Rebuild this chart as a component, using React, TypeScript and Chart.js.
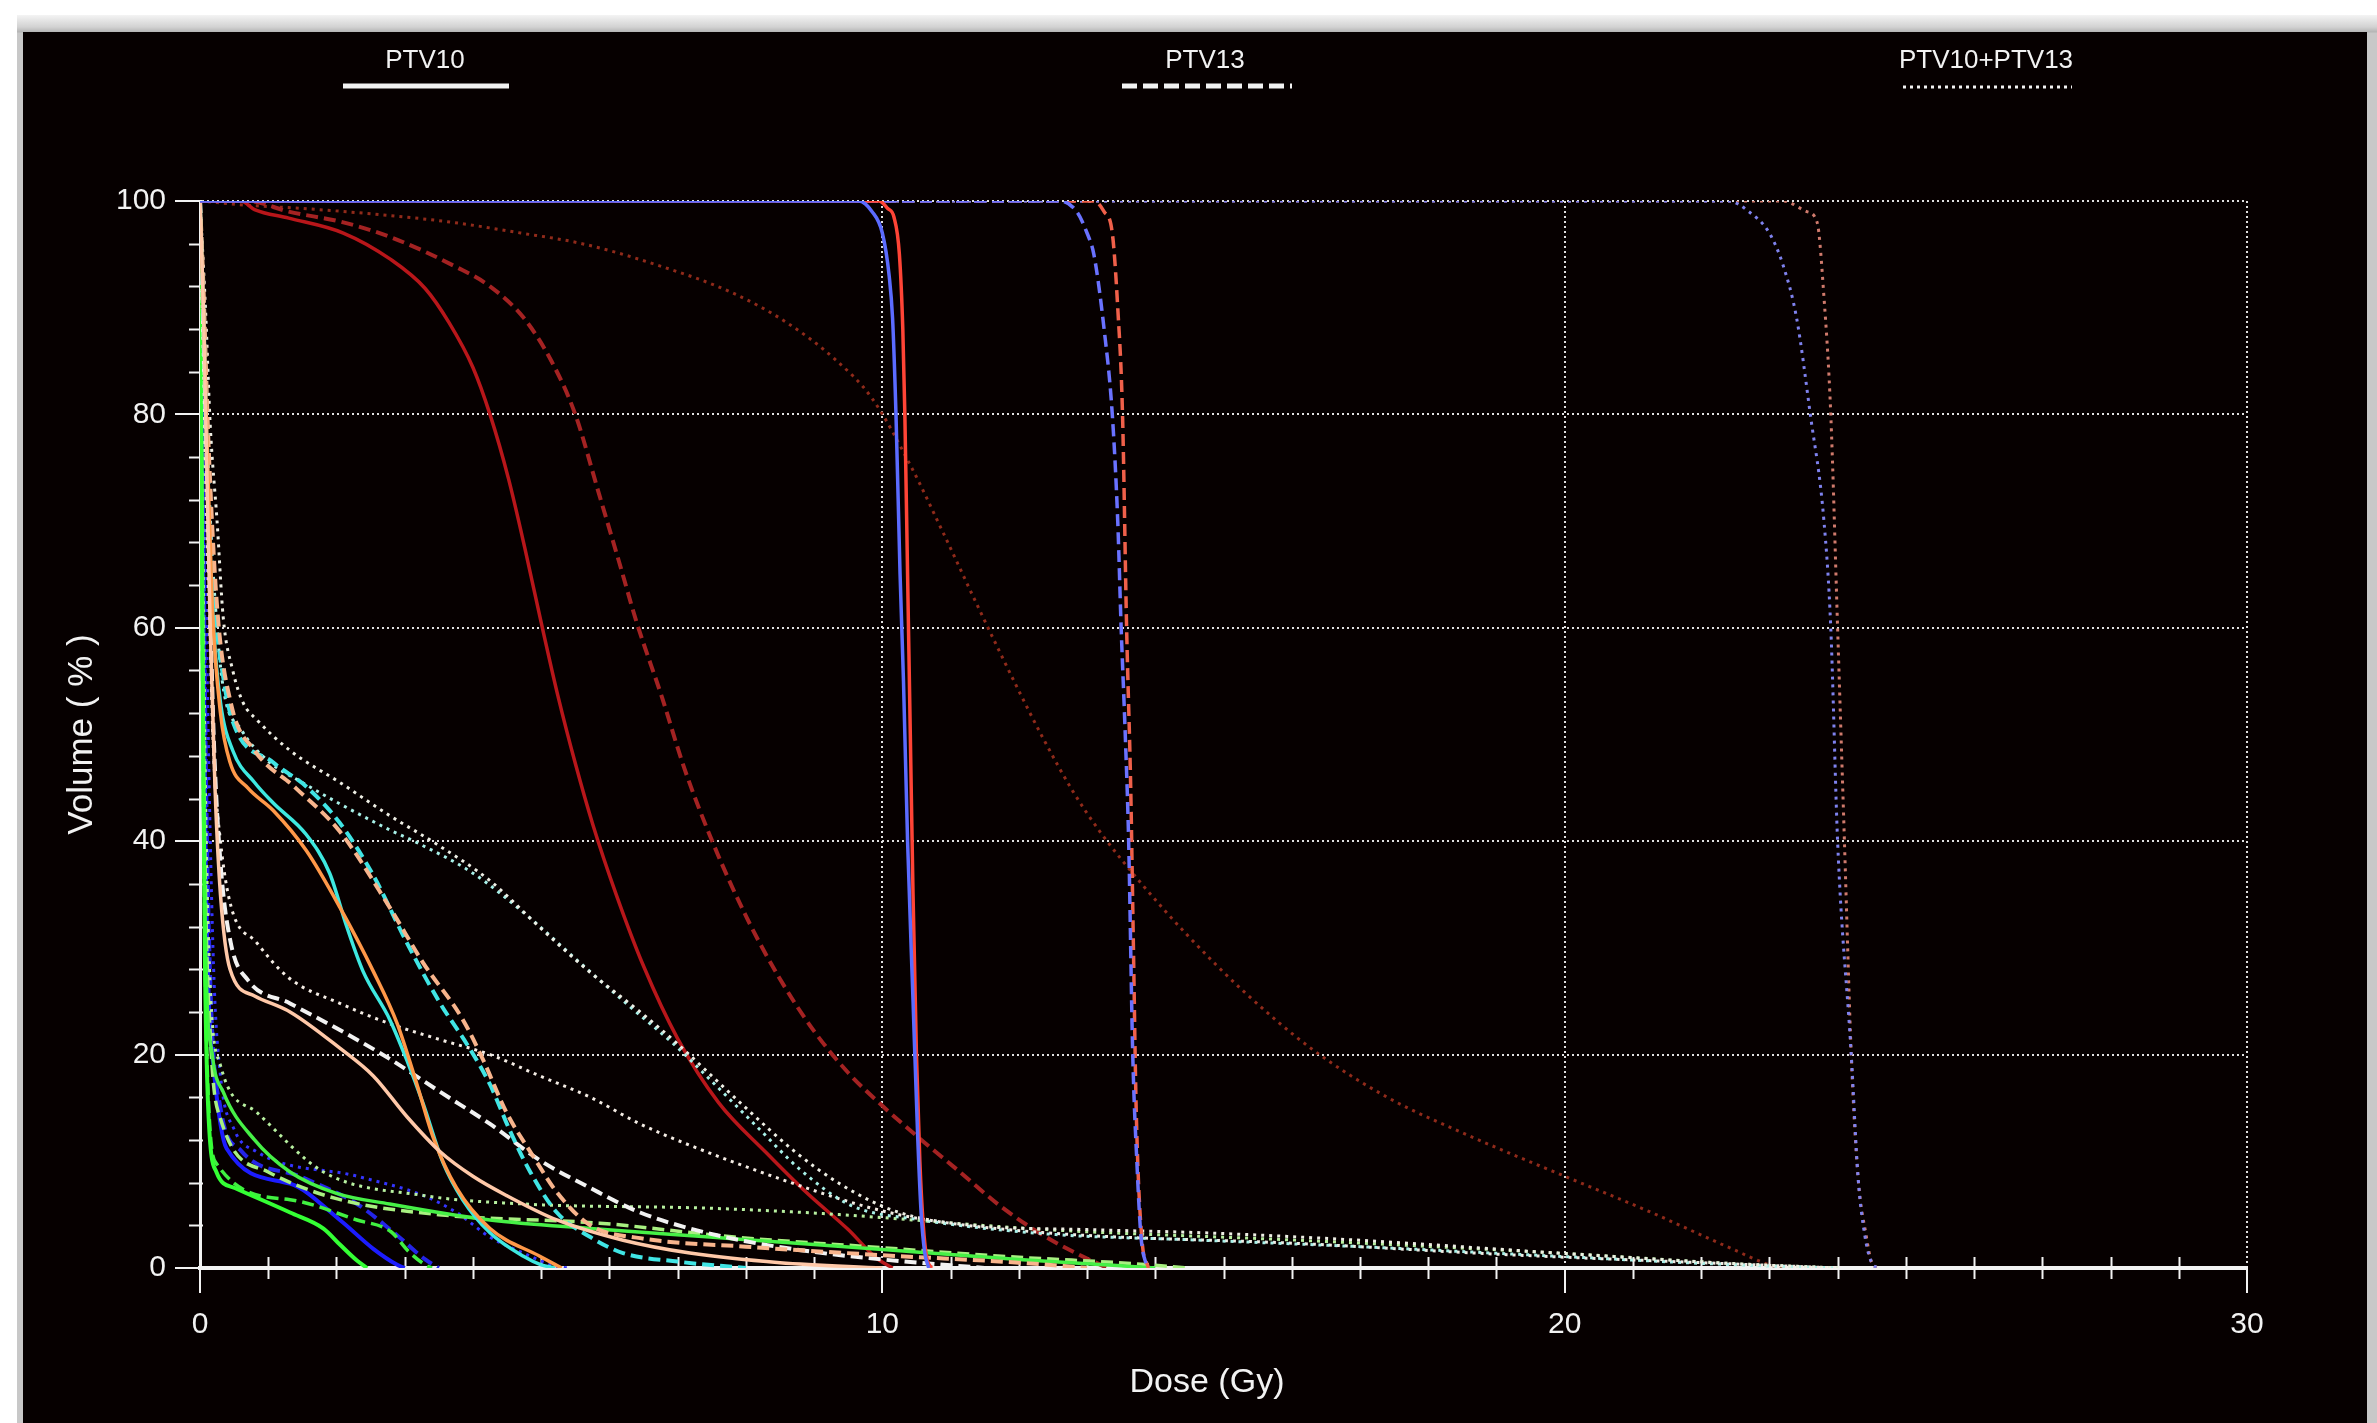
import React, { useEffect, useRef } from 'react';
import { Chart, registerables } from 'chart.js';

Chart.register(...registerables);

// ---------- axis / legend values ----------
const doseMin = 0;
const doseMax = 30;
const doseMajorStep = 10;
const doseMinorStep = 1;
const volMin = 0;
const volMax = 100;
const volMajorStep = 20;
const volMinorStep = 4;
const xTitle = 'Dose (Gy)';
const yTitle = 'Volume ( % )';
const planLabels = ['PTV10', 'PTV13', 'PTV10+PTV13'];

// ---------- DVH series: [dose Gy, volume %] ----------
const blueSolid: [number, number][] = [[0, 100], [9.65, 100], [9.85, 99], [10.0, 97], [10.1, 93], [10.15, 89], [10.2, 80], [10.26, 65], [10.31, 55], [10.37, 40], [10.45, 25], [10.52, 12], [10.57, 5], [10.62, 1.5], [10.68, 0]];
const redSolid: [number, number][] = [[0, 100], [9.95, 100], [10.08, 99.3], [10.17, 98.5], [10.25, 95], [10.3, 88], [10.33, 80], [10.37, 65], [10.41, 50], [10.45, 35], [10.5, 20], [10.55, 10], [10.6, 4], [10.65, 1], [10.72, 0]];
const blueDashed: [number, number][] = [[0, 100], [12.6, 100], [12.85, 99], [13.0, 97], [13.1, 95], [13.25, 88], [13.37, 80], [13.45, 70], [13.5, 60], [13.56, 50], [13.61, 40], [13.67, 20], [13.73, 10], [13.79, 3], [13.88, 0]];
const redDashed: [number, number][] = [[0, 100], [13.1, 100], [13.25, 99], [13.37, 97], [13.45, 90], [13.52, 80], [13.58, 60], [13.64, 45], [13.68, 30], [13.72, 15], [13.8, 3], [13.9, 0]];
const blueDotted: [number, number][] = [[0, 100], [22.4, 100], [22.7, 99], [23.0, 97], [23.2, 94], [23.4, 89], [23.6, 80], [23.8, 70], [23.9, 60], [24.0, 40], [24.2, 20], [24.3, 8.5], [24.4, 3], [24.5, 0.5], [24.6, 0]];
const redDotted: [number, number][] = [[0, 100], [23.2, 100], [23.55, 99], [23.7, 98], [23.8, 91], [23.9, 80], [24.0, 60], [24.1, 40], [24.2, 20], [24.3, 8.5], [24.42, 3], [24.5, 0.5], [24.6, 0]];

const darkRedSolid: [number, number][] = [[0, 100], [0.6, 100], [0.8, 99.2], [1.3, 98.4], [2.1, 97], [2.8, 94.5], [3.3, 91.8], [3.65, 88.6], [4.0, 84.4], [4.25, 80], [4.52, 74], [4.76, 67.5], [5.0, 60.5], [5.25, 53.5], [5.5, 47.3], [5.76, 41.5], [6.1, 35], [6.5, 28.3], [7.0, 21.5], [7.6, 15.5], [8.3, 10.8], [8.9, 7], [9.5, 3.6], [9.9, 1], [10.15, 0]];
const darkRedDashed: [number, number][] = [[0, 100], [0.7, 100], [1.3, 99], [2.1, 98], [2.8, 96.6], [3.76, 93.8], [4.25, 92], [4.75, 89], [5.15, 85], [5.5, 80], [5.85, 72.5], [6.15, 66], [6.4, 60.5], [6.77, 53.5], [7.1, 46.8], [7.52, 39.8], [8.0, 33], [8.48, 27.3], [9.0, 22.2], [9.5, 18.3], [10.0, 15.2], [10.5, 12.4], [11.1, 9.2], [11.75, 5.7], [12.4, 2.9], [12.93, 1.1], [13.3, 0]];
const darkRedDotted: [number, number][] = [[0, 100], [0.7, 99.6], [1.5, 99.3], [2.5, 98.8], [3.7, 98], [4.7, 97], [5.6, 96], [6.7, 94], [7.8, 91.4], [8.6, 88.6], [9.3, 85.2], [9.85, 81.5], [10.43, 75], [10.9, 68.8], [11.4, 62], [11.93, 55], [12.36, 49.6], [12.8, 44.6], [13.2, 40.8], [13.8, 36], [14.47, 31.2], [15.3, 25.9], [16.3, 20.5], [17.4, 16], [18.67, 12.2], [20.0, 8.6], [21.2, 5.4], [22.45, 1.8], [23.0, 0.3], [23.2, 0]];

const cyanSolid: [number, number][] = [[0, 100], [0.06, 88], [0.12, 72], [0.2, 60], [0.3, 53], [0.48, 48.5], [0.8, 45.5], [1.07, 43.6], [1.56, 40.6], [1.9, 37], [2.15, 32], [2.39, 27.8], [2.78, 23.3], [3.03, 19.5], [3.27, 15.4], [3.56, 9.9], [3.85, 6.4], [4.25, 3.3], [4.74, 1.1], [5.0, 0.3], [5.2, 0]];
const orangeSolid: [number, number][] = [[0, 100], [0.05, 90], [0.1, 78], [0.18, 62], [0.3, 52], [0.44, 47.4], [0.7, 45], [1.07, 42.9], [1.56, 39.1], [2.05, 33.8], [2.54, 27.8], [2.89, 22.9], [3.18, 17.2], [3.42, 12.2], [3.76, 7.5], [4.25, 3.7], [4.98, 1.1], [5.3, 0]];
const cyanDashed: [number, number][] = [[0, 100], [0.05, 90], [0.12, 75], [0.22, 62], [0.35, 55], [0.48, 51.2], [1.07, 47.4], [1.56, 45.1], [2.05, 41.7], [2.54, 36.8], [3.03, 30.5], [3.52, 24.8], [3.91, 21], [4.25, 17.2], [4.54, 12.9], [4.84, 9], [5.23, 5.2], [5.72, 2.9], [6.2, 1.4], [7.0, 0.6], [8.0, 0]];
const orangeDashed: [number, number][] = [[0, 100], [0.05, 92], [0.12, 78], [0.25, 62], [0.45, 53], [0.8, 48.5], [1.4, 45], [2.05, 40.9], [2.78, 33.8], [3.27, 28.6], [3.85, 23.3], [4.15, 19.5], [4.49, 14.6], [4.88, 10.5], [5.23, 7.1], [5.72, 4.0], [6.45, 2.8], [8.0, 2.0], [10.0, 1.2], [12.0, 0.5], [13.0, 0]];
const peachSolid: [number, number][] = [[0, 100], [0.05, 90], [0.1, 75], [0.15, 60], [0.22, 45], [0.3, 35], [0.44, 28], [0.8, 25.5], [1.32, 24], [2.05, 20.6], [2.54, 18], [3.03, 14.2], [3.52, 10.9], [4.0, 8.6], [4.49, 6.8], [5.23, 4.5], [6.2, 2.6], [7.18, 1.4], [8.5, 0.5], [10.0, 0]];
const whiteDashed: [number, number][] = [[0, 100], [0.05, 88], [0.12, 70], [0.2, 50], [0.3, 38], [0.45, 30.5], [0.7, 27], [1.32, 24.8], [2.05, 22.3], [2.78, 19.6], [3.52, 16.5], [4.25, 13.5], [4.98, 10.1], [5.72, 7.5], [6.45, 5.2], [7.18, 3.7], [8.0, 2.5], [9.0, 1.5], [10.0, 0.8], [11.5, 0]];
const whiteDottedHigh: [number, number][] = [[0, 100], [0.08, 90], [0.15, 79], [0.25, 70], [0.34, 61], [0.48, 56], [0.63, 53], [0.83, 51.4], [1.32, 48.5], [2.05, 45.5], [2.78, 42.4], [3.5, 39.6], [4.25, 36.3], [5.0, 31.8], [5.7, 27.8], [6.45, 24], [7.0, 21], [7.5, 18], [8.0, 15], [8.7, 11], [9.4, 7.8], [10.2, 5.3], [11.3, 4.0], [13.0, 3.6], [14.7, 3.3], [17.0, 2.6], [19.9, 1.4], [22.5, 0.4], [24.0, 0]];
const cyanDotted: [number, number][] = [[0, 100], [0.06, 88], [0.14, 72], [0.25, 60], [0.35, 54], [0.6, 50.5], [1.0, 47.5], [1.5, 45.5], [2.05, 43.5], [2.8, 41], [3.2, 39.8], [4.0, 37], [4.8, 33], [5.5, 29], [6.3, 24.5], [6.94, 21], [7.5, 17.5], [8.2, 13], [8.8, 9.2], [9.53, 5.9], [10.57, 4.5], [12.4, 3.2], [14.7, 2.6], [17.0, 2.0], [19.9, 1.1], [22.5, 0.3], [24.0, 0]];
const whiteDottedLow: [number, number][] = [[0, 100], [0.05, 85], [0.1, 70], [0.15, 58], [0.2, 48], [0.3, 40], [0.45, 34], [0.83, 30.5], [1.3, 27.2], [2.05, 24.8], [2.78, 22.9], [3.52, 21.4], [4.25, 20], [4.98, 18], [5.72, 16], [6.45, 13.5], [7.18, 11.5], [8.48, 8.4], [9.79, 5.7], [10.57, 4.6], [12.4, 3.3], [16.1, 2.3], [19.0, 1.3], [22.0, 0.5], [24.0, 0]];
const greenSolid: [number, number][] = [[0, 100], [0.02, 80], [0.04, 55], [0.07, 30], [0.12, 15], [0.24, 9], [0.51, 7.5], [1.32, 5.2], [1.81, 3.7], [2.05, 2.2], [2.3, 0.7], [2.45, 0]];
const greenSolidLong: [number, number][] = [[0, 100], [0.02, 75], [0.05, 45], [0.09, 28], [0.18, 20], [0.34, 16.5], [0.8, 12], [1.32, 9], [2.0, 7], [2.78, 6], [4.25, 4.5], [5.72, 3.7], [7.47, 2.9], [9.0, 2.2], [10.5, 1.5], [12.0, 0.8], [13.5, 0.2], [14.0, 0]];
const greenDashed: [number, number][] = [[0, 100], [0.02, 75], [0.05, 45], [0.1, 20], [0.24, 9.8], [1.32, 6.4], [2.3, 4.5], [2.8, 3.4], [3.05, 1.6], [3.3, 0.3], [3.4, 0]];
const lightGreenDotted: [number, number][] = [[0, 100], [0.03, 80], [0.07, 50], [0.14, 28], [0.3, 19], [0.83, 14.6], [1.81, 9], [3.27, 6.8], [4.74, 6], [7.47, 5.6], [9.13, 5.1], [12.4, 3.6], [16.1, 2.6], [19.9, 1.4], [22.5, 0.4], [24.0, 0]];
const lightGreenDashed: [number, number][] = [[0, 100], [0.03, 70], [0.07, 40], [0.15, 22], [0.3, 14], [1.0, 9], [2.0, 6.5], [3.5, 5], [5.86, 4.2], [7.83, 2.9], [9.79, 2], [11.75, 1.1], [13.7, 0.4], [14.5, 0]];
const darkBlueSolid: [number, number][] = [[0, 100], [0.04, 70], [0.08, 40], [0.13, 25], [0.2, 18.7], [0.39, 11.2], [1.32, 7.9], [2.05, 4.5], [2.54, 1.8], [2.89, 0.3], [3.0, 0]];
const darkBlueDashed: [number, number][] = [[0, 100], [0.04, 75], [0.09, 45], [0.16, 25], [0.3, 15], [0.6, 11], [1.5, 8.5], [2.3, 6], [2.9, 3], [3.3, 0.8], [3.5, 0]];
const darkBlueDotted: [number, number][] = [[0, 100], [0.05, 80], [0.12, 50], [0.2, 28], [0.3, 18], [0.5, 13], [0.83, 10.9], [2.3, 8.6], [3.27, 6.8], [3.76, 5.2], [4.25, 2.9], [4.74, 1.4], [5.2, 0.2], [5.4, 0]];

// ---------- styles (kept apart from the values) ----------
type Style = 'solid' | 'dashed' | 'dotted';
const dashFor: Record<Style, number[]> = { solid: [], dashed: [12, 6], dotted: [3, 5] };

const seriesSpec: { name: string; data: [number, number][]; color: string; style: Style; width: number }[] = [
  { name: 'Target A PTV10', data: blueSolid, color: '#5b6bff', style: 'solid', width: 3.5 },
  { name: 'Target B PTV10', data: redSolid, color: '#ff4436', style: 'solid', width: 3.5 },
  { name: 'Target A PTV13', data: blueDashed, color: '#6a72ff', style: 'dashed', width: 3.5 },
  { name: 'Target B PTV13', data: redDashed, color: '#f0604a', style: 'dashed', width: 3.5 },
  { name: 'Target A PTV10+PTV13', data: blueDotted, color: '#7f82ee', style: 'dotted', width: 3 },
  { name: 'Target B PTV10+PTV13', data: redDotted, color: '#d07a6c', style: 'dotted', width: 3 },
  { name: 'Peach PTV10', data: peachSolid, color: '#ffc8a8', style: 'solid', width: 3.5 },
  { name: 'Orange PTV10', data: orangeSolid, color: '#ff9848', style: 'solid', width: 3.5 },
  { name: 'Cyan PTV10', data: cyanSolid, color: '#3ee8e0', style: 'solid', width: 3.5 },
  { name: 'Orange PTV13', data: orangeDashed, color: '#f8b48c', style: 'dashed', width: 4 },
  { name: 'Cyan PTV13', data: cyanDashed, color: '#40e4e4', style: 'dashed', width: 4 },
  { name: 'White PTV13', data: whiteDashed, color: '#f2f2f2', style: 'dashed', width: 4 },
  { name: 'White PTV10+PTV13', data: whiteDottedHigh, color: '#eeeee4', style: 'dotted', width: 3 },
  { name: 'Cyan PTV10+PTV13', data: cyanDotted, color: '#a8f0e8', style: 'dotted', width: 3 },
  { name: 'Peach PTV10+PTV13', data: whiteDottedLow, color: '#f4ece4', style: 'dotted', width: 3 },
  { name: 'Green PTV10', data: greenSolid, color: '#34ff34', style: 'solid', width: 4 },
  { name: 'Green long PTV10', data: greenSolidLong, color: '#46f046', style: 'solid', width: 3.5 },
  { name: 'Green PTV13', data: greenDashed, color: '#40f040', style: 'dashed', width: 3.5 },
  { name: 'Light green PTV10+PTV13', data: lightGreenDotted, color: '#b8f0a0', style: 'dotted', width: 3 },
  { name: 'Light green PTV13', data: lightGreenDashed, color: '#a8f080', style: 'dashed', width: 3.5 },
  { name: 'Dark blue PTV10', data: darkBlueSolid, color: '#1c1cff', style: 'solid', width: 4 },
  { name: 'Dark blue PTV13', data: darkBlueDashed, color: '#2424e8', style: 'dashed', width: 4 },
  { name: 'Dark blue PTV10+PTV13', data: darkBlueDotted, color: '#3434ff', style: 'dotted', width: 3 },
  { name: 'Dark red PTV10', data: darkRedSolid, color: '#b8161a', style: 'solid', width: 3.5 },
  { name: 'Dark red PTV13', data: darkRedDashed, color: '#a42222', style: 'dashed', width: 4 },
  { name: 'Dark red PTV10+PTV13', data: darkRedDotted, color: '#902a1a', style: 'dotted', width: 3 },
];

const FONT = '"Liberation Sans", Arial, Helvetica, sans-serif';
const NARROW = '"Liberation Sans Narrow", "Arial Narrow", "Liberation Sans", Arial, sans-serif';
const INK = '#f2f2f2';

const minorTicksPlugin = {
  id: 'minorTicks',
  beforeDatasetsDraw(chart: any) {
    const { ctx, chartArea, scales } = chart;
    const x = scales.x;
    const y = scales.y;
    ctx.save();
    ctx.strokeStyle = INK;
    ctx.lineWidth = 2;
    ctx.setLineDash([]);
    ctx.beginPath();
    for (let v = volMin; v <= volMax; v += volMinorStep) {
      if (v % volMajorStep === 0) continue;
      const py = Math.round(y.getPixelForValue(v)) + 0.5;
      ctx.moveTo(chartArea.left - 11, py);
      ctx.lineTo(chartArea.left + 3, py);
    }
    for (let d = doseMin; d <= doseMax; d += doseMinorStep) {
      if (d % doseMajorStep === 0) continue;
      const px = Math.round(x.getPixelForValue(d)) + 0.5;
      ctx.moveTo(px, chartArea.bottom - 11);
      ctx.lineTo(px, chartArea.bottom + 11);
    }
    ctx.stroke();
    ctx.restore();
  },
};

const planLegendPlugin = {
  id: 'planLegend',
  afterDraw(chart: any) {
    const { ctx } = chart;
    const items: { cx: number; x1: number; x2: number; y: number; style: Style; w: number }[] = [
      { cx: 402, x1: 320, x2: 486, y: 54, style: 'solid', w: 5 },
      { cx: 1182, x1: 1099, x2: 1269, y: 54, style: 'dashed', w: 5 },
      { cx: 1963, x1: 1880, x2: 2049, y: 55, style: 'dotted', w: 3 },
    ];
    ctx.save();
    ctx.fillStyle = INK;
    ctx.font = `26px ${NARROW}`;
    ctx.textAlign = 'center';
    ctx.textBaseline = 'middle';
    items.forEach((it, i) => {
      ctx.fillText(planLabels[i], it.cx, 29);
      ctx.strokeStyle = INK;
      ctx.lineWidth = it.w;
      ctx.lineCap = 'butt';
      ctx.setLineDash(it.style === 'dashed' ? [15, 6] : it.style === 'dotted' ? [3, 4] : []);
      ctx.beginPath();
      ctx.moveTo(it.x1, it.y);
      ctx.lineTo(it.x2, it.y);
      ctx.stroke();
    });
    // x-axis title, placed slightly left of the plot centre as in the source
    ctx.setLineDash([]);
    ctx.font = `34px ${FONT}`;
    ctx.fillText(xTitle, 1184, 1351);
    ctx.restore();
  },
};

export default function App() {
  const ref = useRef<HTMLCanvasElement>(null);

  useEffect(() => {
    const canvas = ref.current;
    if (!canvas) return;
    const datasets = seriesSpec.map((s) => ({
      label: s.name,
      data: s.data.map(([x, y]) => ({ x, y })),
      borderColor: s.color,
      backgroundColor: s.color,
      borderWidth: s.width,
      borderDash: dashFor[s.style],
      borderCapStyle: 'butt' as const,
      pointRadius: 0,
      fill: false,
      cubicInterpolationMode: 'monotone' as const,
    }));

    const chart = new Chart(canvas, {
      type: 'line',
      data: { datasets },
      options: {
        animation: false,
        responsive: false,
        maintainAspectRatio: false,
        events: [],
        layout: { padding: { top: 169, right: 120, left: 0, bottom: 0 } },
        plugins: {
          legend: { display: false },
          tooltip: { enabled: false },
          title: { display: false },
        },
        scales: {
          x: {
            type: 'linear',
            min: doseMin,
            max: doseMax,
            ticks: {
              stepSize: doseMajorStep,
              color: INK,
              font: { family: FONT, size: 30 },
              padding: 14,
              maxRotation: 0,
            },
            grid: {
              color: 'rgba(235,235,235,0.95)',
              lineWidth: 2,
              drawTicks: true,
              tickLength: 25,
              tickColor: INK,
              tickWidth: 2,
              tickBorderDash: [],
            } as any,
            border: { display: true, color: INK, width: 4, dash: [2, 3] },
            title: { display: false },
            afterFit: (s: any) => {
              s.height = 155;
            },
          },
          y: {
            type: 'linear',
            min: volMin,
            max: volMax,
            ticks: {
              stepSize: volMajorStep,
              color: INK,
              font: { family: FONT, size: 30 },
              padding: 9,
            },
            grid: {
              color: 'rgba(235,235,235,0.95)',
              lineWidth: 2,
              drawTicks: true,
              tickLength: 25,
              tickColor: INK,
              tickWidth: 2,
              tickBorderDash: [],
            } as any,
            border: { display: true, color: INK, width: 3, dash: [2, 3] },
            title: {
              display: true,
              text: yTitle,
              color: INK,
              font: { family: FONT, size: 35 },
              padding: { top: 38, bottom: 0 },
            },
            afterFit: (s: any) => {
              s.width = 177;
            },
          },
        },
      },
      plugins: [minorTicksPlugin, planLegendPlugin],
    });
    return () => chart.destroy();
  }, []);

  return (
    <div style={{ position: 'fixed', left: 0, top: 0, width: 2377, height: 1423, background: '#ffffff', overflow: 'hidden' }}>
      <div
        style={{
          position: 'absolute',
          left: 17,
          top: 15,
          right: 0,
          bottom: 0,
          background: 'linear-gradient(#f4f4f4 0px, #d2d2d2 12px, #b4b4b4 17px, #c8c8c8 18px)',
        }}
      />
      <div style={{ position: 'absolute', left: 23, top: 32, width: 2344, height: 1391, background: '#060000' }}>
        <canvas ref={ref} width={2344} height={1391} style={{ display: 'block', width: 2344, height: 1391 }} />
      </div>
    </div>
  );
}
